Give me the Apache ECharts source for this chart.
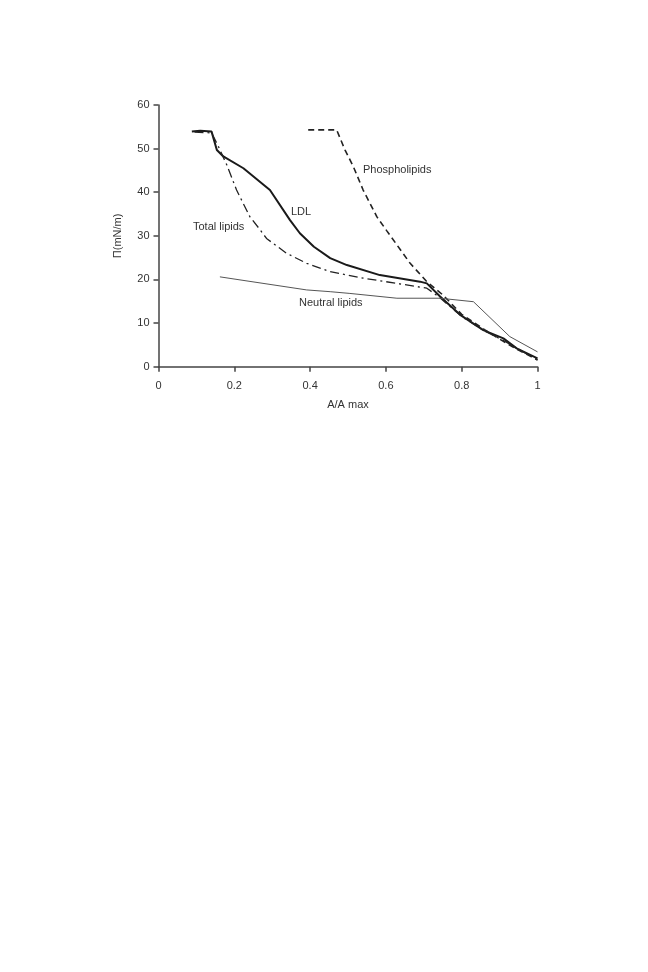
<!DOCTYPE html>
<html>
<head>
<meta charset="utf-8">
<script src="https://cdn.jsdelivr.net/npm/echarts@6/dist/echarts.min.js"></script>
<style>html,body{margin:0;padding:0;background:#fff;}#c{width:648px;height:972px;}</style>
</head>
<body>
<div id="c"></div>
<script>
var xTicks = [0, 0.2, 0.4, 0.6, 0.8, 1];
var yTicks = [0, 10, 20, 30, 40, 50, 60];

var ldl = [[0.088,53.9],[0.11,54.1],[0.14,53.9],[0.154,49.7],[0.171,48.2],[0.224,45.5],[0.294,40.5],[0.347,33.6],[0.373,30.6],[0.41,27.5],[0.453,24.9],[0.497,23.3],[0.584,21.0],[0.69,19.5],[0.708,19.1],[0.743,16.1],[0.796,11.9],[0.857,8.4],[0.91,6.5],[0.945,4.2],[1.0,1.9]];
var totalLipids = [[0.095,53.8],[0.14,53.6],[0.158,50.5],[0.18,46.3],[0.206,40.5],[0.241,34.4],[0.268,31.4],[0.285,29.4],[0.338,26.0],[0.391,23.7],[0.453,21.8],[0.54,20.3],[0.629,19.1],[0.708,18.0],[0.74,16.0],[0.8,11.5],[0.86,8.2],[0.91,6.0],[0.95,4.0],[1.0,1.5]];
var phospholipids = [[0.395,54.3],[0.47,54.3],[0.492,49.7],[0.514,45.9],[0.54,40.5],[0.576,34.4],[0.602,31.2],[0.664,23.7],[0.708,19.5],[0.751,16.4],[0.8,12.0],[0.86,8.5],[0.91,5.8],[0.95,3.8],[1.0,1.6]];
var neutralLipids = [[0.162,20.6],[0.215,19.9],[0.391,17.6],[0.453,17.2],[0.505,16.8],[0.629,15.7],[0.743,15.7],[0.831,14.9],[0.927,6.9],[1.0,3.4]];

var chart = echarts.init(document.getElementById('c'), null, {renderer:'canvas'});
var axisCol = '#444';
var txt = {color:'#333', fontFamily:'Liberation Sans, Arial, sans-serif', fontSize:11};
chart.setOption({
  animation:false,
  backgroundColor:'#fff',
  grid:{left:158.5, right:110.5, top:105, bottom:605.3},
  xAxis:{type:'value', min:0, max:1, interval:0.2,
    axisLine:{show:true, lineStyle:{color:axisCol, width:1.5}},
    axisTick:{show:true, length:5, lineStyle:{color:axisCol, width:1.5}},
    splitLine:{show:false},
    axisLabel:Object.assign({margin:14, formatter:function(v){return xTicks.indexOf(+v.toFixed(1))>=0?String(+v.toFixed(1)):'';}}, txt),
    name:'A/A max', nameLocation:'middle', nameGap:33, nameTextStyle:txt},
  yAxis:{type:'value', min:0, max:60, interval:10,
    axisLine:{show:true, lineStyle:{color:axisCol, width:1.5}},
    axisTick:{show:true, length:5, lineStyle:{color:axisCol, width:1.5}},
    splitLine:{show:false},
    axisLabel:Object.assign({margin:9, formatter:function(v){return yTicks.indexOf(v)>=0?String(v):'';}}, txt),
    name:'\u03A0(mN/m)', nameLocation:'middle', nameGap:35, nameTextStyle:txt},
  series:[
    {type:'line', data:ldl, symbol:'none', lineStyle:{color:'#1a1a1a', width:2}},
    {type:'line', data:totalLipids, symbol:'none', lineStyle:{color:'#222', width:1.3, type:[9,4,2,4]}},
    {type:'line', data:phospholipids, symbol:'none', lineStyle:{color:'#222', width:1.6, type:[6,4]}},
    {type:'line', data:neutralLipids, symbol:'none', lineStyle:{color:'#555', width:1}}
  ],
  graphic:[
    {type:'text', left:363, top:164, style:{text:'Phospholipids', fill:'#333', font:'11px Liberation Sans, Arial, sans-serif'}},
    {type:'text', left:291, top:206, style:{text:'LDL', fill:'#333', font:'11px Liberation Sans, Arial, sans-serif'}},
    {type:'text', left:193, top:221, style:{text:'Total lipids', fill:'#333', font:'11px Liberation Sans, Arial, sans-serif'}},
    {type:'text', left:299, top:297, style:{text:'Neutral lipids', fill:'#333', font:'11px Liberation Sans, Arial, sans-serif'}}
  ]
});
</script>
</body>
</html>
